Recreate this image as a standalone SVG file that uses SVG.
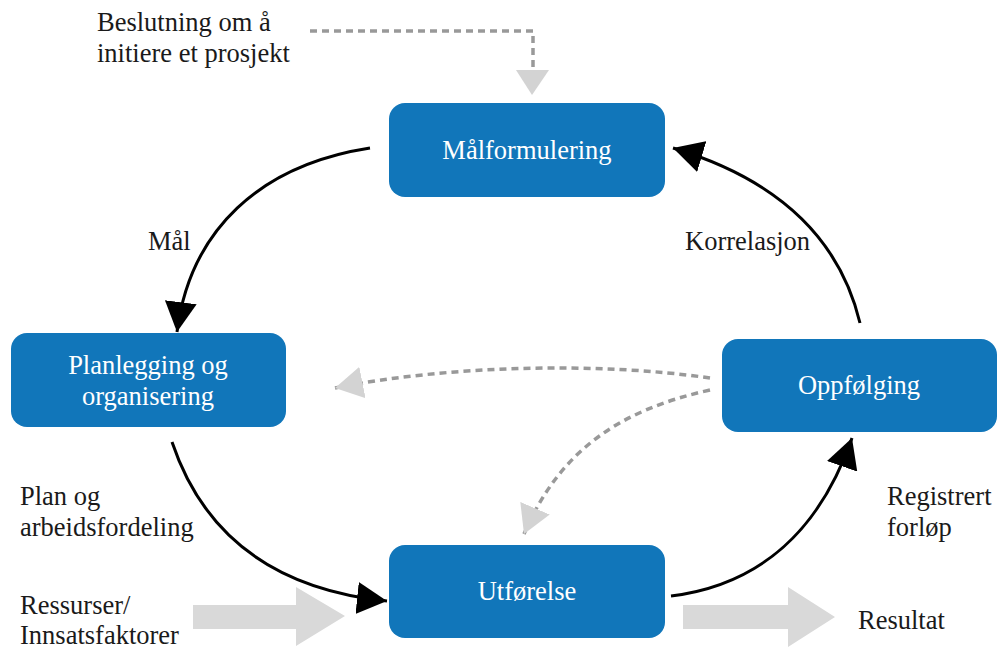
<svg xmlns="http://www.w3.org/2000/svg" width="999" height="650" viewBox="0 0 999 650">
<style>
.node{fill:#1176ba;}
.nt{fill:#ffffff;text-anchor:middle;}
.lb{fill:#1a1a1a;}
.solid{fill:none;stroke:#000;stroke-width:3;}
.dash{fill:none;stroke:#999;stroke-width:3.5;stroke-dasharray:7 5;}
.block{fill:#d9d9d9;}
</style>
<defs>
<marker id="ab" viewBox="0 0 30 32" refX="30" refY="16" markerWidth="30" markerHeight="32" markerUnits="userSpaceOnUse" orient="auto">
<path d="M0,0 L30,16 L0,32 z" fill="#000"/>
</marker>
<marker id="ag" viewBox="0 0 28 32" refX="28" refY="16" markerWidth="28" markerHeight="32" markerUnits="userSpaceOnUse" orient="auto">
<path d="M0,0 L28,16 L0,32 z" fill="#d3d3d3"/>
</marker>
</defs>
<rect width="999" height="650" fill="#fff"/>
<g id="connectors">
<path class="dash" d="M310,31 H533 V68"/>
<polygon points="516,70 549,70 532,95" fill="#d3d3d3"/>
<path class="solid" d="M370,148 C260,165 190,230 177,332" marker-end="url(#ab)"/>
<path class="solid" d="M172,442 C205,540 280,590 387,601" marker-end="url(#ab)"/>
<path class="solid" d="M671,596 C760,585 820,530 852,438" marker-end="url(#ab)"/>
<path class="solid" d="M860,323 C840,240 780,180 673,148" marker-end="url(#ab)"/>
<path class="dash" d="M710,378 C600,362 450,365 335,388" marker-end="url(#ag)"/>
<path class="dash" d="M710,390 C620,410 560,450 524,534" marker-end="url(#ag)"/>
<polygon class="block" points="193,605 296,605 296,587 345,616 296,646 296,629 193,629"/>
<polygon class="block" points="683,605 788,605 788,587 835,617 788,647 788,629 683,629"/>
</g>
<g font-family="Liberation Serif, Times New Roman, DejaVu Serif, serif" font-size="26.5">
<g id="node-malformulering">
<rect class="node" x="389" y="103" width="276" height="94" rx="16"/>
<text class="nt" x="527" y="159">Målformulering</text>
</g>
<g id="node-planlegging">
<rect class="node" x="11" y="333" width="275" height="94" rx="16"/>
<text class="nt" x="148" y="374">Planlegging og</text>
<text class="nt" x="148" y="405">organisering</text>
</g>
<g id="node-oppfolging">
<rect class="node" x="722" y="339" width="275" height="93" rx="16"/>
<text class="nt" x="859" y="394">Oppfølging</text>
</g>
<g id="node-utforelse">
<rect class="node" x="389" y="545" width="276" height="93" rx="16"/>
<text class="nt" x="527" y="600">Utførelse</text>
</g>
<g id="labels">
<text class="lb" x="97" y="31">Beslutning om å</text>
<text class="lb" x="97" y="62">initiere et prosjekt</text>
<text class="lb" x="148" y="250">Mål</text>
<text class="lb" x="685" y="250">Korrelasjon</text>
<text class="lb" x="20" y="505">Plan og</text>
<text class="lb" x="20" y="536">arbeidsfordeling</text>
<text class="lb" x="887" y="505">Registrert</text>
<text class="lb" x="887" y="536">forløp</text>
<text class="lb" x="20" y="614">Ressurser/</text>
<text class="lb" x="20" y="644">Innsatsfaktorer</text>
<text class="lb" x="858" y="629">Resultat</text>
</g>
</g>
</svg>
